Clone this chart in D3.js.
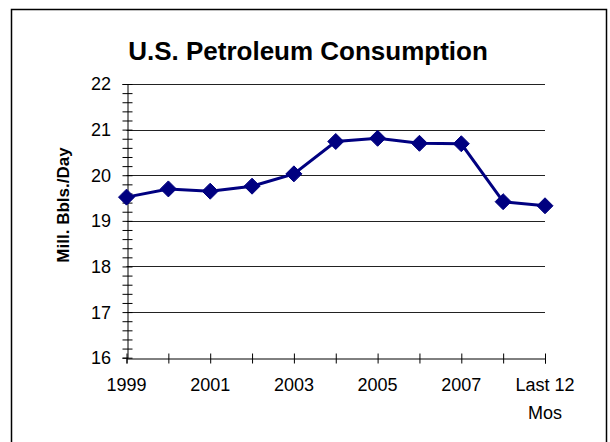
<!DOCTYPE html>
<html>
<head>
<meta charset="utf-8">
<script src="https://cdn.jsdelivr.net/npm/d3@7/dist/d3.min.js"></script>
<style>
  body { margin: 0; background: #fff; }
  svg text { font-family: "Liberation Sans", Arial, sans-serif; fill: #000; }
</style>
</head>
<body>
<div id="chart"></div>
<script>
const categories = ["1999", "2000", "2001", "2002", "2003", "2004", "2005", "2006", "2007", "2008", "Last 12 Mos"]
const consumption = [19.52, 19.70, 19.65, 19.76, 20.03, 20.74, 20.81, 20.70, 20.69, 19.42, 19.33]
const yTicks = [16, 17, 18, 19, 20, 21, 22]
const xLabels = ["1999", "2001", "2003", "2005", "2007", ["Last 12", "Mos"]]

var W = 610, H = 442
var plot = { left: 126.5, right: 545, top: 84, bottom: 357.7 }

var svg = d3.select("#chart").append("svg")
    .attr("width", W)
    .attr("height", H)

// outer frame
svg.append("rect")
    .attr("x", 11.5).attr("y", 9.5)
    .attr("width", 595).attr("height", 440)
    .attr("fill", "#fff")
    .attr("stroke", "#000")
    .attr("stroke-width", 1.5)

svg.append("text")
    .attr("x", 308)
    .attr("y", 60)
    .attr("text-anchor", "middle")
    .style("font-size", "26px")
    .style("font-weight", "bold")
    .text("U.S. Petroleum Consumption")

var x = d3.scalePoint()
    .domain(categories)
    .range([plot.left, plot.right])

var y = d3.scaleLinear()
    .domain([16, 22])
    .range([plot.bottom, plot.top])

// gridlines
svg.selectAll(".grid")
    .data(yTicks.filter(d => d > 16))
    .enter().append("line")
    .attr("class", "grid")
    .attr("x1", plot.left).attr("x2", plot.right)
    .attr("y1", d => Math.round(y(d)) + 0.5)
    .attr("y2", d => Math.round(y(d)) + 0.5)
    .attr("stroke", "#222")
    .attr("stroke-width", 1)

// y axis with minor ticks crossing the line
var yAxis = d3.axisLeft(y)
    .tickValues(d3.range(16, 22.001, 0.2))
    .tickSize(5)
    .tickFormat("")
var gy = svg.append("g")
    .attr("transform", "translate(" + (Math.round(plot.left) + 0.5) + ",0)")
    .call(yAxis)
gy.select(".domain").attr("stroke", "#000")
gy.selectAll(".tick line").attr("x2", -5).attr("x1", 5).attr("stroke", "#000")

svg.selectAll(".ylab")
    .data(yTicks)
    .enter().append("text")
    .attr("class", "ylab")
    .attr("x", 111)
    .attr("y", d => y(d))
    .attr("dy", "0.36em")
    .attr("text-anchor", "end")
    .style("font-size", "18px")
    .text(d => d)

// x axis
var xAxis = d3.axisBottom(x).tickSize(5).tickFormat("")
var gx = svg.append("g")
    .attr("transform", "translate(0," + (Math.round(plot.bottom) + 0.5) + ")")
    .call(xAxis)
gx.select(".domain").attr("stroke", "#000")
gx.selectAll(".tick line").attr("y1", -5).attr("y2", 5).attr("stroke", "#000")

var labelCats = ["1999", "2001", "2003", "2005", "2007", "Last 12 Mos"]
svg.selectAll(".xlab")
    .data(xLabels)
    .enter().append("text")
    .attr("class", "xlab")
    .attr("text-anchor", "middle")
    .attr("y", 390.5)
    .style("font-size", "18px")
    .each(function(d, i) {
        var lines = Array.isArray(d) ? d : [d]
        var cx = x(labelCats[i])
        d3.select(this).selectAll("tspan")
            .data(lines)
            .enter().append("tspan")
            .attr("x", cx)
            .attr("dy", (l, j) => j == 0 ? 0 : 28)
            .text(l => l)
    })

svg.append("text")
    .attr("transform", "translate(69,205) rotate(-90)")
    .attr("text-anchor", "middle")
    .style("font-size", "17px")
    .style("font-weight", "bold")
    .text("Mill. Bbls./Day")

// series
var line = d3.line()
    .x((d, i) => x(categories[i]))
    .y(d => y(d))

svg.append("path")
    .datum(consumption)
    .attr("d", line)
    .attr("fill", "none")
    .attr("stroke", "#000080")
    .attr("stroke-width", 3)

svg.selectAll(".dot")
    .data(consumption)
    .enter().append("path")
    .attr("class", "dot")
    .attr("d", "M0,-8L8,0L0,8L-8,0Z")
    .attr("transform", (d, i) => "translate(" + x(categories[i]) + "," + y(d) + ")")
    .attr("fill", "#000080")
    .attr("stroke", "#000080")
    .attr("stroke-width", 1)
</script>
</body>
</html>
